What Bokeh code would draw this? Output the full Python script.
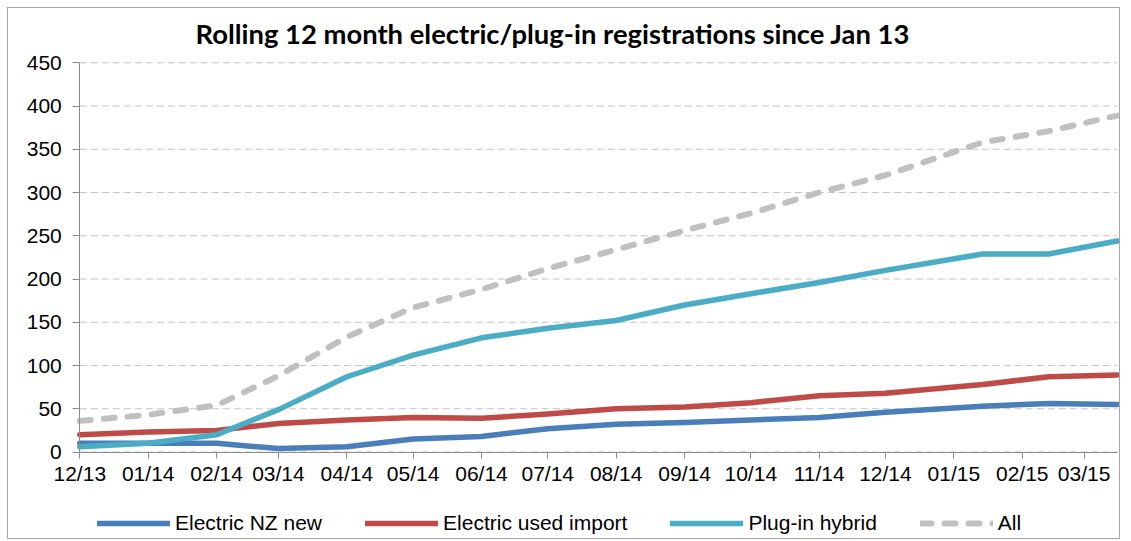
import calendar
from datetime import datetime
from bokeh.plotting import figure
from bokeh.layouts import row, column
from bokeh.models import (Range1d, FixedTicker, DatetimeTickFormatter, Legend,
                          LegendItem, Spacer, Label)
from bokeh.embed import file_html
from bokeh.resources import INLINE

# ---------------- data ----------------
dates = ["2013-12-01", "2014-01-01", "2014-02-01", "2014-03-01", "2014-04-01",
         "2014-05-01", "2014-06-01", "2014-07-01", "2014-08-01", "2014-09-01",
         "2014-10-01", "2014-11-01", "2014-12-01", "2015-01-14", "2015-02-13",
         "2015-03-16"]
tick_dates = ["2013-12-01", "2014-01-01", "2014-02-01", "2014-03-01", "2014-04-01",
              "2014-05-01", "2014-06-01", "2014-07-01", "2014-08-01", "2014-09-01",
              "2014-10-01", "2014-11-01", "2014-12-01", "2015-01-01", "2015-02-01",
              "2015-03-01"]
electric_nz_new = [10, 10, 10, 4, 6, 15, 18, 27, 32, 34, 37, 40, 46, 53, 56, 55]
electric_used_import = [20, 23, 25, 33, 37, 40, 39, 44, 50, 52, 57, 65, 68, 78, 87, 89]
plug_in_hybrid = [6, 10, 20, 49, 87, 112, 132, 143, 152, 170, 183, 196, 210, 229, 229, 244]
all_vehicles = [36, 43, 54, 88, 133, 167, 188, 212, 234, 256, 276, 300, 320, 358, 371, 389]
y_ticks = [0, 50, 100, 150, 200, 250, 300, 350, 400, 450]

title_text = "Rolling 12 month electric/plug-in registrations since Jan 13"
series_names = ["Electric NZ new", "Electric used import", "Plug-in hybrid", "All"]

# ---------------- layout numbers (pixels inside the bordered canvas) ----------------
W, H = 1113, 532                 # drawing area inside the 1px border
PX_LEFT, PX_RIGHT = 71.3, 1108.7  # where the first/last date sit
PX_TOP, PX_ZERO = 54.3, 443.5     # where 450 and 0 sit (from top)
Y_MAX = 450.0


def to_ms(s):
    return calendar.timegm(datetime.strptime(s, "%Y-%m-%d").timetuple()) * 1000


x = [datetime.strptime(d, "%Y-%m-%d") for d in dates]
x0_ms, x1_ms = to_ms(dates[0]), to_ms(dates[-1])
tick_ms = [to_ms(d) for d in tick_dates]

ms_per_px = (x1_ms - x0_ms) / (PX_RIGHT - PX_LEFT)
val_per_px = Y_MAX / (PX_ZERO - PX_TOP)
x_range = Range1d(x0_ms - PX_LEFT * ms_per_px, x1_ms + (W - PX_RIGHT) * ms_per_px)
y_range = Range1d(-(H - PX_ZERO) * val_per_px, Y_MAX + PX_TOP * val_per_px)

FONT = "Liberation Sans"

p = figure(width=W, height=H, x_axis_type="datetime",
           output_backend="svg", toolbar_location=None,
           x_range=x_range, y_range=y_range, min_border=0,
           min_border_left=0, min_border_right=0, min_border_top=0,
           min_border_bottom=0)
p.styles = {"border": "1px solid #a6a6a6"}
p.outline_line_color = None
p.background_fill_color = "white"
p.border_fill_color = "white"
p.title.visible = False
p.xgrid.grid_line_color = None
p.ygrid.grid_line_color = None

# horizontal dashed gridlines between the first and last date
p.segment(x0=[x[0]] * len(y_ticks), y0=y_ticks, x1=[x[-1]] * len(y_ticks), y1=y_ticks,
          line_color="#c4c4c4", line_width=1, line_dash="7 4")

# axes (kept at the data origin)
for ax in (p.xaxis[0], p.yaxis[0]):
    ax.axis_line_color = "#8c8c8c"
    ax.major_tick_line_color = "#8c8c8c"
    ax.minor_tick_line_color = None
    ax.major_tick_in = 0
    ax.major_label_text_font = FONT
    ax.major_label_text_font_size = "21px"
    ax.major_label_text_color = "#000000"

p.yaxis[0].ticker = FixedTicker(ticks=y_ticks)
p.yaxis[0].bounds = (0, Y_MAX)
p.yaxis[0].fixed_location = x0_ms
p.yaxis[0].major_tick_out = 7
p.yaxis[0].major_label_standoff = 11

p.xaxis[0].ticker = FixedTicker(ticks=tick_ms)
fmt = "%m/%y"
p.xaxis[0].formatter = DatetimeTickFormatter(
    milliseconds=fmt, seconds=fmt, minsec=fmt, minutes=fmt, hourmin=fmt,
    hours=fmt, days=fmt, months=fmt, years=fmt)
p.xaxis[0].bounds = (x0_ms, x1_ms)
p.xaxis[0].fixed_location = 0
p.xaxis[0].major_tick_out = 6
p.xaxis[0].major_label_standoff = 4

# lines
colors = ["#4a7ebb", "#be4b48", "#4bacc6", "#c0c0c0"]
r1 = p.line(x, electric_nz_new, line_color=colors[0], line_width=5.5,
            line_join="round", line_cap="round")
r2 = p.line(x, electric_used_import, line_color=colors[1], line_width=5.5,
            line_join="round", line_cap="round")
r3 = p.line(x, plug_in_hybrid, line_color=colors[2], line_width=5.5,
            line_join="round", line_cap="round")
r4 = p.line(x, all_vehicles, line_color=colors[3], line_width=6,
            line_join="round", line_cap="round", line_dash="11 13")
renderers = [r1, r2, r3, r4]

# title
p.add_layout(Label(x=187, y=H - 25, x_units="screen", y_units="screen",
                   text=title_text, text_font="Lato", text_font_style="bold",
                   text_font_size="27.4px", text_color="#000000",
                   text_align="left", text_baseline="alphabetic"))

legend = Legend(items=[LegendItem(label=n, renderers=[r]) for n, r in zip(series_names, renderers)],
                orientation="horizontal", location=(89, 5),
                glyph_width=73, glyph_height=24, label_height=24,
                label_standoff=5, spacing=43, padding=0, margin=0,
                label_text_font=FONT, label_text_font_size="21px",
                label_text_color="#000000",
                border_line_color=None, background_fill_alpha=0)
p.add_layout(legend, "center")

layout = row(Spacer(width=7, height=H + 2), column(Spacer(width=W + 2, height=7), p))
open("out.html", "w").write(file_html(layout, INLINE))
